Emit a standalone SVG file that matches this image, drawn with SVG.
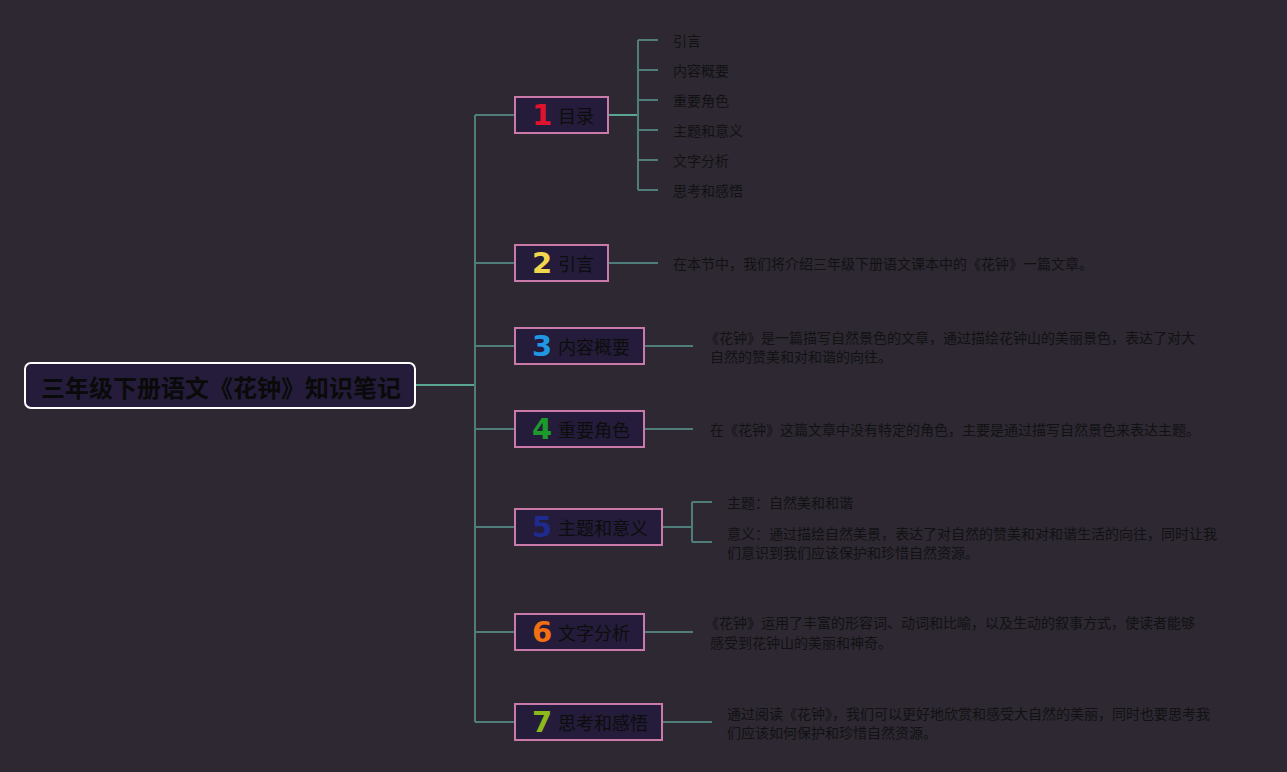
<svg xmlns="http://www.w3.org/2000/svg" width="1287" height="772" viewBox="0 0 1287 772">
<style>
.bg{fill:#2d2832}
.ln{stroke:#4f7d79;stroke-width:2;fill:none}
.lnb{stroke:#5aa58f;stroke-width:2;fill:none}
.node{fill:#241c3a;stroke:#c97aa9;stroke-width:2}
.root{fill:#241c3a;stroke:#ffffff;stroke-width:2}
.rt{font-family:"Noto Sans CJK SC","Noto Sans",sans-serif;font-size:24px;font-weight:bold;fill:#0a0a0a}
.lab{font-family:"Noto Sans CJK SC","Noto Sans",sans-serif;font-size:18px;fill:#0d0d0d}
.num{font-family:"DejaVu Sans","Noto Sans",sans-serif;font-size:29px;font-weight:bold}
.t{font-family:"Noto Sans CJK SC","Noto Sans",sans-serif;font-size:14px;fill:#121212}
</style>
<rect class="bg" x="0" y="0" width="1287" height="772"/>
<g id="connectors">
<path class="lnb" d="M415 385H475"/>
<path class="ln" d="M475 115V722M475 115H515M475 263H515M475 346H515M475 429H515M475 527H515M475 632H515M475 722H515"/>
<path class="lnb" d="M608 115H638"/>
<path class="ln" d="M638 40V190M638 40H658M638 70H658M638 100H658M638 130H658M638 160H658M638 190H658"/>
<path class="ln" d="M608 263H658"/>
<path class="ln" d="M644 346H693"/>
<path class="ln" d="M644 429H693"/>
<path class="ln" d="M662 527H692M692 502V542M692 502H712M692 542H712"/>
<path class="ln" d="M644 632H693"/>
<path class="ln" d="M662 722H712"/>
</g>
<g id="root">
<rect class="root" x="25" y="363" width="390" height="45" rx="6"/>
<text class="rt" x="221" y="386" text-anchor="middle" dominant-baseline="central">三年级下册语文《花钟》知识笔记</text>
</g>
<g id="n1">
<rect class="node" x="515" y="97" width="93" height="36"/>
<text class="num" x="542" y="115" text-anchor="middle" dominant-baseline="central" fill="#e0132f">1</text>
<text class="lab" x="558" y="115" dominant-baseline="central">目录</text>
</g>
<g id="n1c">
<text class="t" x="673" y="40" dominant-baseline="central">引言</text>
<text class="t" x="673" y="70" dominant-baseline="central">内容概要</text>
<text class="t" x="673" y="100" dominant-baseline="central">重要角色</text>
<text class="t" x="673" y="130" dominant-baseline="central">主题和意义</text>
<text class="t" x="673" y="160" dominant-baseline="central">文字分析</text>
<text class="t" x="673" y="190" dominant-baseline="central">思考和感悟</text>
</g>
<g id="n2">
<rect class="node" x="515" y="245" width="93" height="36"/>
<text class="num" x="542" y="263" text-anchor="middle" dominant-baseline="central" fill="#f2d64e">2</text>
<text class="lab" x="558" y="263" dominant-baseline="central">引言</text>
</g>
<text id="n2t" class="t" x="673" y="263" dominant-baseline="central">在本节中，我们将介绍三年级下册语文课本中的《花钟》一篇文章。</text>
<g id="n3">
<rect class="node" x="515" y="328" width="129" height="36"/>
<text class="num" x="542" y="346" text-anchor="middle" dominant-baseline="central" fill="#1f97e2">3</text>
<text class="lab" x="558" y="346" dominant-baseline="central">内容概要</text>
</g>
<g id="n3t">
<text class="t" x="705" y="337" dominant-baseline="central">《花钟》是一篇描写自然景色的文章，通过描绘花钟山的美丽景色，表达了对大</text>
<text class="t" x="710" y="356" dominant-baseline="central">自然的赞美和对和谐的向往。</text>
</g>
<g id="n4">
<rect class="node" x="515" y="411" width="129" height="36"/>
<text class="num" x="542" y="429" text-anchor="middle" dominant-baseline="central" fill="#1c9a2c">4</text>
<text class="lab" x="558" y="429" dominant-baseline="central">重要角色</text>
</g>
<text id="n4t" class="t" x="710" y="429" dominant-baseline="central">在《花钟》这篇文章中没有特定的角色，主要是通过描写自然景色来表达主题。</text>
<g id="n5">
<rect class="node" x="515" y="509" width="147" height="36"/>
<text class="num" x="542" y="527" text-anchor="middle" dominant-baseline="central" fill="#1e2a8c">5</text>
<text class="lab" x="558" y="527" dominant-baseline="central">主题和意义</text>
</g>
<g id="n5t">
<text class="t" x="727" y="502" dominant-baseline="central">主题：自然美和和谐</text>
<text class="t" x="727" y="533" dominant-baseline="central">意义：通过描绘自然美景，表达了对自然的赞美和对和谐生活的向往，同时让我</text>
<text class="t" x="727" y="552" dominant-baseline="central">们意识到我们应该保护和珍惜自然资源。</text>
</g>
<g id="n6">
<rect class="node" x="515" y="614" width="129" height="36"/>
<text class="num" x="542" y="632" text-anchor="middle" dominant-baseline="central" fill="#f26f12">6</text>
<text class="lab" x="558" y="632" dominant-baseline="central">文字分析</text>
</g>
<g id="n6t">
<text class="t" x="705" y="622" dominant-baseline="central">《花钟》运用了丰富的形容词、动词和比喻，以及生动的叙事方式，使读者能够</text>
<text class="t" x="710" y="642" dominant-baseline="central">感受到花钟山的美丽和神奇。</text>
</g>
<g id="n7">
<rect class="node" x="515" y="704" width="147" height="36"/>
<text class="num" x="542" y="722" text-anchor="middle" dominant-baseline="central" fill="#8cb81c">7</text>
<text class="lab" x="558" y="722" dominant-baseline="central">思考和感悟</text>
</g>
<g id="n7t">
<text class="t" x="727" y="713" dominant-baseline="central">通过阅读《花钟》，我们可以更好地欣赏和感受大自然的美丽，同时也要思考我</text>
<text class="t" x="727" y="732" dominant-baseline="central">们应该如何保护和珍惜自然资源。</text>
</g>
</svg>
